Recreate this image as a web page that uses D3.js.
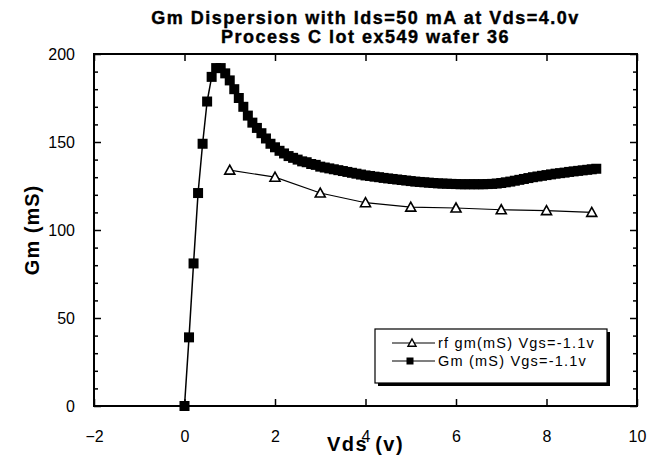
<!DOCTYPE html>
<html>
<head>
<meta charset="utf-8">
<script src="https://cdn.jsdelivr.net/npm/d3@7"></script>
<style>
  body { margin: 0; background: #fff; }
  svg { display: block; }
  text { font-family: "Liberation Sans", Arial, sans-serif; fill: #000; }
</style>
</head>
<body>
<div class="container"></div>
<script>
// Gm (mS) measured, Vgs=-1.1v  (squares)
const gmVds = [0, 0.1, 0.2, 0.3, 0.4, 0.5, 0.6, 0.7, 0.8, 0.9,
  1.0, 1.1, 1.2, 1.3, 1.4, 1.5, 1.6, 1.7, 1.8, 1.9,
  2.0, 2.1, 2.2, 2.3, 2.4, 2.5, 2.6, 2.7, 2.8, 2.9,
  3.0, 3.1, 3.2, 3.3, 3.4, 3.5, 3.6, 3.7, 3.8, 3.9,
  4.0, 4.1, 4.2, 4.3, 4.4, 4.5, 4.6, 4.7, 4.8, 4.9,
  5.0, 5.1, 5.2, 5.3, 5.4, 5.5, 5.6, 5.7, 5.8, 5.9,
  6.0, 6.1, 6.2, 6.3, 6.4, 6.5, 6.6, 6.7, 6.8, 6.9,
  7.0, 7.1, 7.2, 7.3, 7.4, 7.5, 7.6, 7.7, 7.8, 7.9,
  8.0, 8.1, 8.2, 8.3, 8.4, 8.5, 8.6, 8.7, 8.8, 8.9,
  9.0, 9.1];
const gmValues = [0, 39, 81, 121, 149, 173, 187, 192, 192, 189,
  185, 180, 175, 170, 165, 161, 158, 155, 152, 149,
  147, 145, 143.5, 142, 141, 140, 139, 138.5, 137.5, 137,
  136, 135.5, 135, 134.5, 134, 133.5, 133, 132.5, 132, 131.5,
  131, 130.7, 130.3, 130, 129.6, 129.3, 129, 128.7, 128.4, 128.1,
  127.8, 127.5, 127.3, 127.1, 126.9, 126.7, 126.5, 126.4, 126.3, 126.2,
  126.1, 126, 126, 126, 126, 126, 126, 126.1, 126.2, 126.4,
  126.7, 127.1, 127.5, 128, 128.5, 129, 129.5, 130, 130.4, 130.8,
  131.2, 131.6, 132, 132.3, 132.6, 133, 133.3, 133.6, 133.9, 134.2,
  134.5, 134.8];

// rf gm (mS), Vgs=-1.1v  (triangles)
const rfVds = [1, 2, 3, 4, 5, 6, 7, 8, 9];
const rfValues = [134, 130, 121, 115.5, 113, 112.5, 111.5, 111, 110];

const xTicks = [-2, 0, 2, 4, 6, 8, 10];
const yTicks = [0, 50, 100, 150, 200];
const yMinorTicks = [10, 20, 30, 40, 60, 70, 80, 90, 110, 120, 130, 140, 160, 170, 180, 190];

const titleLines = ["Gm Dispersion with Ids=50 mA at Vds=4.0v", "Process C lot ex549 wafer 36"];
const legendLabels = ["rf gm(mS) Vgs=-1.1v", "Gm (mS) Vgs=-1.1v"];

const width = 648, height = 466;
const margin = { left: 94, right: 11, top: 54, bottom: 60 };

const svg = d3.select('.container').append('svg')
  .attr('width', width)
  .attr('height', height);

const x = d3.scaleLinear().domain([-2, 10]).range([margin.left, width - margin.right]);
const y = d3.scaleLinear().domain([0, 200]).range([height - margin.bottom, margin.top]);

const x0 = x.range()[0], x1 = x.range()[1];
const y0 = y.range()[0], y1 = y.range()[1];

// titles
titleLines.forEach((t, i) => {
  svg.append('text')
    .attr('x', (x0 + x1) / 2)
    .attr('y', 24 + i * 19)
    .attr('text-anchor', 'middle')
    .attr('font-size', 18)
    .attr('font-weight', 'bold')
    .attr('letter-spacing', 1.5)
    .attr('stroke', '#000')
    .attr('stroke-width', 0.4)
    .text(t);
});

// axes (ticks point inward)
svg.append('g')
  .attr('transform', `translate(0,${y0})`)
  .call(d3.axisBottom(x).tickValues(xTicks).tickSizeInner(-7).tickSizeOuter(0).tickPadding(25))
  .call(g => g.select('.domain').remove())
  .call(g => g.selectAll('text').attr('font-size', 16).attr('font-family', null));

svg.append('g')
  .attr('transform', `translate(0,${y1})`)
  .call(d3.axisTop(x).tickValues(xTicks).tickSizeInner(-7).tickSizeOuter(0).tickFormat(''))
  .call(g => g.select('.domain').remove());

svg.append('g')
  .attr('transform', `translate(${x0},0)`)
  .call(d3.axisLeft(y).tickValues(yTicks).tickSizeInner(-7).tickSizeOuter(0).tickPadding(19))
  .call(g => g.select('.domain').remove())
  .call(g => g.selectAll('text').attr('font-size', 16).attr('font-family', null));

svg.append('g')
  .attr('transform', `translate(${x0},0)`)
  .call(d3.axisLeft(y).tickValues(yMinorTicks).tickSizeInner(-4).tickSizeOuter(0).tickFormat(''))
  .call(g => g.select('.domain').remove());

svg.append('g')
  .attr('transform', `translate(${x1},0)`)
  .call(d3.axisRight(y).tickValues(yTicks).tickSizeInner(-7).tickSizeOuter(0).tickFormat(''))
  .call(g => g.select('.domain').remove());

svg.append('g')
  .attr('transform', `translate(${x1},0)`)
  .call(d3.axisRight(y).tickValues(yMinorTicks).tickSizeInner(-4).tickSizeOuter(0).tickFormat(''))
  .call(g => g.select('.domain').remove());

svg.selectAll('.tick line').attr('stroke', '#000').attr('stroke-width', 1.5);

// plot frame
svg.append('rect')
  .attr('x', x0).attr('y', y1)
  .attr('width', x1 - x0).attr('height', y0 - y1)
  .attr('fill', 'none')
  .attr('stroke', '#000')
  .attr('stroke-width', 2);

// axis titles
svg.append('text')
  .attr('x', (x0 + x1) / 2)
  .attr('y', 451)
  .attr('text-anchor', 'middle')
  .attr('font-size', 20)
  .attr('font-weight', 'bold')
  .attr('letter-spacing', 1.5)
  .text('Vds (v)');

svg.append('text')
  .attr('transform', `translate(39,${(y0 + y1) / 2}) rotate(-90)`)
  .attr('text-anchor', 'middle')
  .attr('font-size', 20)
  .attr('font-weight', 'bold')
  .attr('letter-spacing', 1)
  .text('Gm (mS)');

const line = d3.line().x(d => x(d[0])).y(d => y(d[1]));
const triPath = 'M0,-5L5,4L-5,4Z';

// rf gm series
const rfData = rfVds.map((v, i) => [v, rfValues[i]]);
svg.append('path')
  .datum(rfData)
  .attr('d', line)
  .attr('fill', 'none')
  .attr('stroke', '#000')
  .attr('stroke-width', 1.2);

svg.selectAll('.tri')
  .data(rfData)
  .enter().append('path')
  .attr('class', 'tri')
  .attr('transform', d => `translate(${x(d[0])},${y(d[1])})`)
  .attr('d', triPath)
  .attr('fill', '#fff')
  .attr('stroke', '#000')
  .attr('stroke-width', 1.6);

// Gm series
const gmData = gmVds.map((v, i) => [v, gmValues[i]]);
svg.append('path')
  .datum(gmData)
  .attr('d', line)
  .attr('fill', 'none')
  .attr('stroke', '#000')
  .attr('stroke-width', 1.5);

const sq = 10;
svg.selectAll('.sq')
  .data(gmData)
  .enter().append('rect')
  .attr('class', 'sq')
  .attr('x', d => x(d[0]) - sq / 2)
  .attr('y', d => y(d[1]) - sq / 2)
  .attr('width', sq)
  .attr('height', sq)
  .attr('fill', '#000');

// legend
const lg = { x: 375, y: 329, w: 232, h: 54 };
svg.append('rect')
  .attr('x', lg.x + 3).attr('y', lg.y + 3)
  .attr('width', lg.w).attr('height', lg.h)
  .attr('fill', '#000');
svg.append('rect')
  .attr('x', lg.x).attr('y', lg.y)
  .attr('width', lg.w).attr('height', lg.h)
  .attr('fill', '#fff')
  .attr('stroke', '#000')
  .attr('stroke-width', 1.2);

legendLabels.forEach((label, i) => {
  const ry = lg.y + 14 + i * 18;
  svg.append('line')
    .attr('x1', 392).attr('x2', 435)
    .attr('y1', ry).attr('y2', ry)
    .attr('stroke', '#000')
    .attr('stroke-width', 1.2);
  if (i === 0) {
    svg.append('path')
      .attr('transform', `translate(412,${ry}) scale(0.8)`)
      .attr('d', triPath)
      .attr('fill', '#fff')
      .attr('stroke', '#000')
      .attr('stroke-width', 1.8);
  } else {
    svg.append('rect')
      .attr('x', 410 - 3.5).attr('y', ry - 3.5)
      .attr('width', 7).attr('height', 7)
      .attr('fill', '#000');
  }
  svg.append('text')
    .attr('x', 438)
    .attr('y', ry + 5)
    .attr('font-size', 14.5)
    .attr('letter-spacing', 1.2)
    .text(label);
});
</script>
</body>
</html>
